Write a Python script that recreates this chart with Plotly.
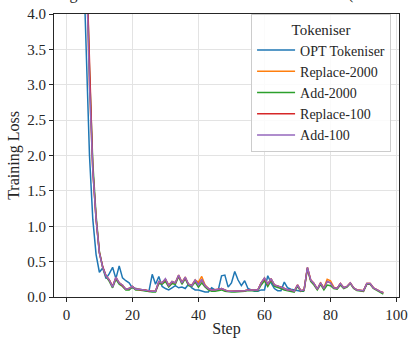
import plotly.graph_objects as go

steps_opt = list(range(1, 73))
loss_opt = [10.0, 9.2, 8.0, 6.8, 5.0, 3.4, 2.0, 1.1, 0.6, 0.35,
            0.41, 0.26, 0.33, 0.42, 0.26, 0.44, 0.27, 0.23, 0.2, 0.13,
            0.12, 0.1, 0.1, 0.09, 0.08, 0.32, 0.18, 0.29, 0.15, 0.12,
            0.1, 0.13, 0.16, 0.13, 0.14, 0.12, 0.18, 0.13, 0.1, 0.1,
            0.08, 0.07, 0.07, 0.13, 0.1, 0.1, 0.3, 0.31, 0.14, 0.2,
            0.36, 0.24, 0.16, 0.23, 0.12, 0.1, 0.08, 0.08, 0.1, 0.1,
            0.3, 0.2, 0.12, 0.09, 0.09, 0.21, 0.13, 0.11, 0.1, 0.08,
            0.08, 0.08]

steps = list(range(1, 97))
loss_add100 = [10.3, 9.8, 9.0, 7.8, 6.5, 4.8, 3.0, 1.8, 1.1, 0.62,
               0.42, 0.3, 0.24, 0.14, 0.28, 0.2, 0.17, 0.11, 0.12, 0.15,
               0.11, 0.11, 0.1, 0.1, 0.08, 0.08, 0.08, 0.22, 0.2, 0.26,
               0.16, 0.22, 0.2, 0.31, 0.2, 0.28, 0.18, 0.16, 0.24, 0.17,
               0.25, 0.16, 0.12, 0.1, 0.1, 0.11, 0.12, 0.1, 0.08, 0.08,
               0.08, 0.08, 0.08, 0.09, 0.1, 0.1, 0.09, 0.1, 0.2, 0.27,
               0.18, 0.26, 0.17, 0.16, 0.14, 0.12, 0.1, 0.1, 0.08, 0.17,
               0.09, 0.1, 0.42, 0.24, 0.19, 0.11, 0.2, 0.12, 0.22, 0.2,
               0.13, 0.12, 0.19, 0.13, 0.15, 0.2, 0.13, 0.1, 0.1, 0.09,
               0.19, 0.19, 0.13, 0.1, 0.08, 0.06]
loss_replace100 = [10.2, 9.7, 9.0, 7.9, 6.4, 4.9, 3.1, 1.8, 1.1, 0.63,
                   0.43, 0.3, 0.24, 0.15, 0.27, 0.2, 0.16, 0.11, 0.12, 0.15,
                   0.11, 0.1, 0.1, 0.1, 0.08, 0.08, 0.08, 0.21, 0.2, 0.25,
                   0.16, 0.21, 0.2, 0.3, 0.2, 0.27, 0.18, 0.16, 0.23, 0.18,
                   0.24, 0.16, 0.12, 0.1, 0.1, 0.11, 0.12, 0.1, 0.08, 0.08,
                   0.08, 0.08, 0.08, 0.09, 0.1, 0.1, 0.09, 0.1, 0.2, 0.26,
                   0.18, 0.25, 0.17, 0.16, 0.14, 0.12, 0.1, 0.1, 0.08, 0.17,
                   0.09, 0.1, 0.41, 0.24, 0.19, 0.11, 0.2, 0.12, 0.22, 0.2,
                   0.13, 0.12, 0.19, 0.13, 0.15, 0.2, 0.13, 0.1, 0.1, 0.09,
                   0.19, 0.19, 0.13, 0.1, 0.08, 0.06]
loss_add2000 = [10.4, 9.9, 9.1, 8.0, 6.7, 5.0, 3.2, 1.9, 1.15, 0.64,
                0.42, 0.29, 0.22, 0.13, 0.25, 0.18, 0.15, 0.1, 0.1, 0.14,
                0.1, 0.1, 0.09, 0.09, 0.07, 0.07, 0.07, 0.19, 0.18, 0.22,
                0.14, 0.19, 0.18, 0.29, 0.18, 0.26, 0.16, 0.15, 0.21, 0.14,
                0.2, 0.14, 0.1, 0.08, 0.08, 0.09, 0.1, 0.08, 0.07, 0.07,
                0.07, 0.07, 0.07, 0.08, 0.09, 0.09, 0.08, 0.09, 0.17, 0.23,
                0.15, 0.23, 0.15, 0.14, 0.12, 0.1, 0.09, 0.09, 0.07, 0.15,
                0.08, 0.09, 0.4, 0.22, 0.17, 0.1, 0.18, 0.1, 0.17, 0.16,
                0.12, 0.11, 0.17, 0.12, 0.14, 0.19, 0.12, 0.09, 0.09, 0.08,
                0.18, 0.18, 0.12, 0.09, 0.07, 0.04]
loss_replace2000 = [10.3, 9.8, 9.0, 7.9, 6.5, 4.8, 3.0, 1.8, 1.1, 0.62,
                    0.42, 0.3, 0.24, 0.14, 0.28, 0.2, 0.17, 0.11, 0.12, 0.15,
                    0.11, 0.11, 0.1, 0.1, 0.08, 0.08, 0.08, 0.22, 0.2, 0.25,
                    0.17, 0.22, 0.2, 0.31, 0.21, 0.28, 0.18, 0.17, 0.24, 0.21,
                    0.29, 0.17, 0.12, 0.1, 0.1, 0.11, 0.12, 0.1, 0.08, 0.08,
                    0.08, 0.08, 0.08, 0.09, 0.1, 0.1, 0.09, 0.1, 0.2, 0.27,
                    0.18, 0.26, 0.17, 0.16, 0.14, 0.12, 0.1, 0.1, 0.08, 0.17,
                    0.09, 0.1, 0.42, 0.24, 0.19, 0.11, 0.2, 0.13, 0.25, 0.23,
                    0.14, 0.12, 0.19, 0.13, 0.15, 0.2, 0.13, 0.1, 0.1, 0.09,
                    0.19, 0.19, 0.13, 0.1, 0.08, 0.06]

series = [
    ("OPT Tokeniser", steps_opt, loss_opt, "#1f77b4"),
    ("Replace-2000", steps, loss_replace2000, "#ff7f0e"),
    ("Add-2000", steps, loss_add2000, "#2ca02c"),
    ("Replace-100", steps, loss_replace100, "#d62728"),
    ("Add-100", steps, loss_add100, "#9467bd"),
]

x_ticks = [0, 20, 40, 60, 80, 100]
y_ticks = [0.0, 0.5, 1.0, 1.5, 2.0, 2.5, 3.0, 3.5, 4.0]

FONT = "Liberation Serif"

fig = go.Figure()
for name, xs, ys, color in series:
    fig.add_trace(go.Scatter(x=xs, y=ys, mode="lines", name=name,
                             line=dict(color=color, width=1.5)))

axis_common = dict(
    showline=True, mirror=True, linecolor="#262626", linewidth=1,
    ticks="outside", ticklen=4, tickcolor="#262626", tickwidth=1,
    showgrid=True, gridcolor="#e3e3e3", gridwidth=1, zeroline=False,
    tickfont=dict(family=FONT, size=15, color="#262626"),
    ticklabeloverflow="allow",
)

fig.update_layout(
    width=414, height=343,
    margin=dict(l=54, r=8, t=6, b=46),
    paper_bgcolor="white", plot_bgcolor="white",
    font=dict(family=FONT, size=15, color="#262626"),
    xaxis=dict(range=[-3.75, 100.75], tickvals=x_ticks,
               title=dict(text="Step", font=dict(family=FONT, size=16), standoff=0),
               **axis_common),
    yaxis=dict(range=[0, 4], tickvals=y_ticks, tickformat=".1f",
               title=dict(text="Training Loss", font=dict(family=FONT, size=16), standoff=3),
               **axis_common),
    legend=dict(
        x=0.977, y=1.0, xanchor="right", yanchor="top",
        bgcolor="rgba(255,255,255,0.85)", bordercolor="#cccccc", borderwidth=1,
        font=dict(family=FONT, size=14, color="#262626"),
        title=dict(text="Tokeniser", side="top center", font=dict(family=FONT, size=15)),
        itemwidth=38, tracegroupgap=0,
    ),
    showlegend=True,
    annotations=[dict(
        text="Training Loss Curves for Tokeniser Modifications (OPT-125M)",
        xref="paper", yref="paper", x=0.5, y=1.032, xanchor="center", yanchor="bottom",
        showarrow=False, font=dict(family=FONT, size=16, color="#262626"),
    )],
)

fig.write_html("out.html")
